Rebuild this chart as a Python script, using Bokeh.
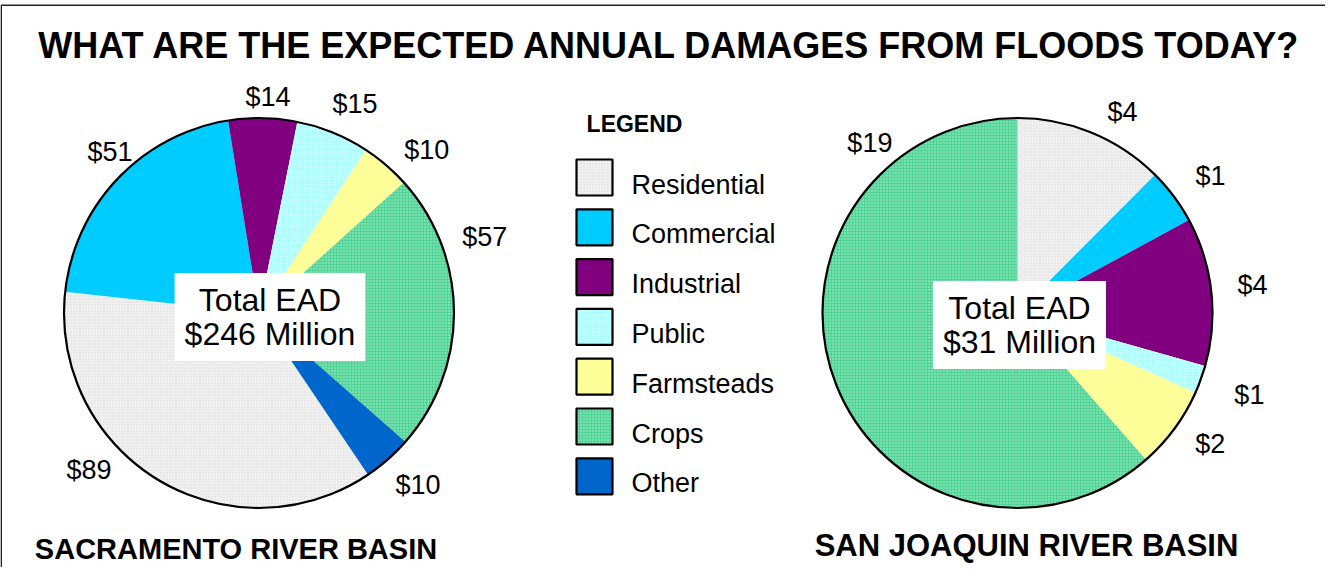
import math
from bokeh.plotting import figure
from bokeh.models import ColumnDataSource, Range1d, Label
from bokeh.embed import file_html
from bokeh.resources import INLINE
from bokeh.core.properties import value

# ---------------- data ----------------
categories = ["Residential", "Commercial", "Industrial", "Public", "Farmsteads", "Crops", "Other"]
sacramento_values = [89, 51, 14, 15, 10, 57, 10]          # $ million
san_joaquin_values = [3.86, 1.44, 3.81, 0.72, 2.12, 19.05, 0]  # $ million
sacramento_total = 246
san_joaquin_total = 31
title_text = "WHAT ARE THE EXPECTED ANNUAL DAMAGES FROM FLOODS TODAY?"
basin_names = ["SACRAMENTO RIVER BASIN", "SAN JOAQUIN RIVER BASIN"]

# ---------------- styles ----------------
fill_colors = ["#f1f1f1", "#00ccff", "#800080", "#acffff", "#ffff99", "#52d496", "#0066cc"]
hatch_patterns = [".", " ", " ", ".", " ", ".", " "]
hatch_colors = ["#d9d9d9", "#00ccff", "#800080", "#e8ffff", "#ffff99", "#b9f2d3", "#0066cc"]
FONT = "Liberation Sans"

# ---------------- layout (pixels in the page) ----------------
W, H = 1325, 567
OX, OY = 8, 8


def X(px):
    return px - OX


def Y(py):
    return (OY + H) - py


pies = [
    dict(values=sacramento_values, total=sacramento_total, cx=266.5, cy=320.5, r=195,
         start=146.0, box_dx=11, box_dy=4,
         lab_ang=[227.2, 317.3, 2.4, 24.7, 45.9, 71.5, 137.3],
         lab_dist=[231.7, 219.7, 215.7, 229.5, 233.7, 238.0, 234.6],
         name_x=243.5, name_mid=556.5, name_size=29),
    dict(values=san_joaquin_values, total=san_joaquin_total, cx=1025, cy=320.5, r=195,
         start=0.0, box_dx=2, box_dy=12,
         lab_ang=[27.6, 54.6, 83.2, 109.5, 124.2, 319.0, 0],
         lab_dist=[226.8, 236.7, 236.7, 246.0, 233.0, 225.0, 0],
         name_x=1034, name_mid=553, name_size=31),
]

p = figure(width=W, height=H, x_range=Range1d(0, W), y_range=Range1d(0, H),
           output_backend="svg", toolbar_location=None, min_border=0,
           x_axis_type=None, y_axis_type=None)
p.grid.visible = False
p.outline_line_color = None
p.background_fill_color = "white"
p.border_fill_color = "white"

# frame (left and top edges)
p.line(x=[X(8.7), X(8.7), X(1341)], y=[Y(583), Y(12.7), Y(12.7)],
       line_color="#222222", line_width=1.6)

for pie in pies:
    vals = pie["values"]
    tot = sum(vals)
    a = pie["start"]
    rows = dict(x=[], y=[], sa=[], ea=[], fill=[], hatch=[], hcol=[])
    lab = dict(x=[], y=[], text=[])
    for i, v in enumerate(vals):
        if v <= 0:
            continue
        sweep = v / tot * 360.0
        a0, a1 = a, a + sweep
        a = a1
        rows["x"].append(X(pie["cx"]))
        rows["y"].append(Y(pie["cy"]))
        rows["sa"].append(math.radians(90 - a0))
        rows["ea"].append(math.radians(90 - a1))
        rows["fill"].append(fill_colors[i])
        rows["hatch"].append(hatch_patterns[i])
        rows["hcol"].append(hatch_colors[i])
        ang = math.radians(pie["lab_ang"][i])
        d = pie["lab_dist"][i]
        lab["x"].append(X(pie["cx"] + d * math.sin(ang)))
        lab["y"].append(Y(pie["cy"] - d * math.cos(ang)))
        lab["text"].append("$%d" % round(v))
    src = ColumnDataSource(rows)
    p.wedge(x="x", y="y", radius=pie["r"], start_angle="sa", end_angle="ea",
            direction="clock", fill_color="fill", line_color=None,
            hatch_pattern="hatch", hatch_color="hcol", hatch_scale=3, hatch_weight=1,
            source=src)
    p.circle(x=[X(pie["cx"])], y=[Y(pie["cy"])], radius=pie["r"],
             fill_color=None, line_color="black", line_width=2.2)
    p.text(x="x", y="y", text="text", source=ColumnDataSource(lab),
           text_font=value(FONT), text_font_size=value("27px"),
           text_align="center", text_baseline="middle", text_color="black")
    p.add_layout(Label(x=X(pie["cx"] + pie["box_dx"]), y=Y(pie["cy"] + pie["box_dy"]),
                       text="Total EAD\n$%d Million" % pie["total"],
                       text_font=FONT, text_font_size="32px", text_align="center",
                       text_baseline="middle", text_color="black", text_line_height=0.95,
                       background_fill_color="white", padding=(10, 9)))

# basin names
for pie, nm in zip(pies, basin_names):
    p.add_layout(Label(x=X(pie["name_x"]), y=Y(pie["name_mid"]), text=nm,
                       text_font=FONT, text_font_style="bold", text_color="black",
                       text_font_size="%dpx" % pie["name_size"],
                       text_align="center", text_baseline="middle"))

# title
p.add_layout(Label(x=X(677.5), y=Y(52.5), text=title_text, text_font=FONT,
                   text_font_style="bold", text_font_size="36px", text_color="black",
                   text_align="center", text_baseline="middle"))

# legend (manual)
p.add_layout(Label(x=X(642), y=Y(131), text="LEGEND", text_font=FONT,
                   text_font_style="bold", text_font_size="23px", text_color="black",
                   text_align="center", text_baseline="middle"))
pitch = 49.8
leg = dict(x=[], y=[], ty=[], tx=[], fill=[], hatch=[], hcol=[], text=[])
for i, c in enumerate(categories):
    leg["x"].append(X(602))
    leg["y"].append(Y(185 + i * pitch))
    leg["tx"].append(X(639))
    leg["ty"].append(Y(192 + i * pitch))
    leg["fill"].append(fill_colors[i])
    leg["hatch"].append(hatch_patterns[i])
    leg["hcol"].append(hatch_colors[i])
    leg["text"].append(c)
lsrc = ColumnDataSource(leg)
p.rect(x="x", y="y", width=36, height=36, fill_color="fill", line_color="black",
       line_width=2.2, hatch_pattern="hatch", hatch_color="hcol", hatch_scale=3,
       hatch_weight=1, source=lsrc)
p.text(x="tx", y="ty", text="text", source=lsrc, text_font=value(FONT),
       text_font_size=value("27px"), text_align="left", text_baseline="middle",
       text_color="black")

open("out.html", "w").write(file_html(p, INLINE))
